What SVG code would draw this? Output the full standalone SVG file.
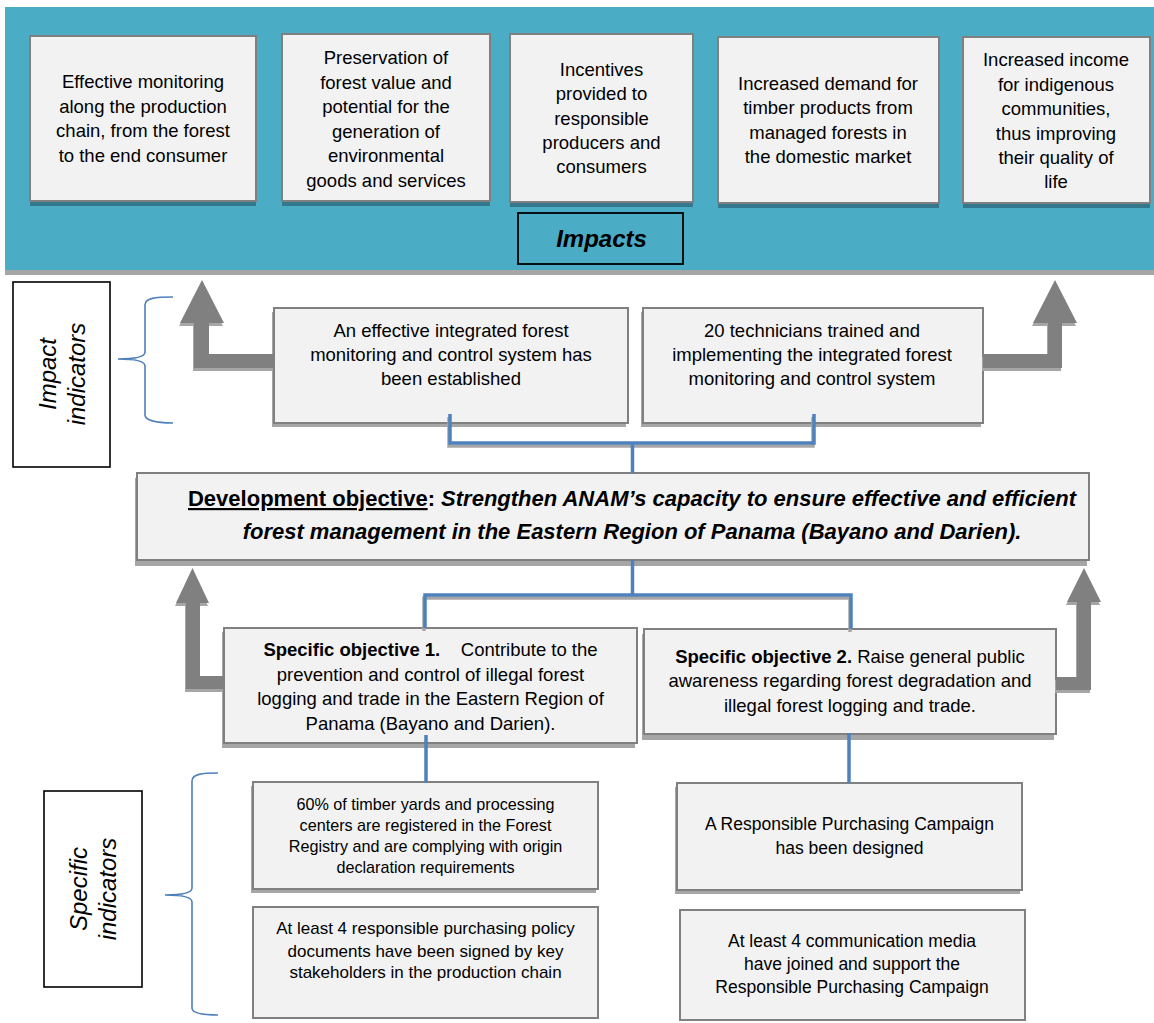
<svg xmlns="http://www.w3.org/2000/svg" width="1154" height="1023" viewBox="0 0 1154 1023">
<style>
text{font-family:"Liberation Sans",Arial,sans-serif;fill:#000;text-anchor:middle}
.t{font-size:18.5px}
.box{fill:#f2f2f2;stroke:#808080;stroke-width:2}
.tsh{fill:#33788c}
.gsh{fill:#a6a6a6}
.lbl{fill:#fff;stroke:#000;stroke-width:1.6}
.lab{font-size:24px;font-style:italic}
.brace{fill:none;stroke:#4f81bd;stroke-width:1.6}
.blue{fill:none;stroke:#4f81bd;stroke-width:3.5}
.blsh{fill:none;stroke:#a6a6a6;stroke-width:3.5}
.arr{fill:#808080}
.arsh{fill:#a6a6a6}
</style>
<rect x="0" y="0" width="1154" height="1023" fill="#fff"/>
<g id="impacts-band">
<rect x="5" y="7" width="1149" height="263" fill="#4bacc6"/>
<rect x="5" y="270" width="1149" height="5" fill="#a6a6a6"/>
</g>
<g id="impact1">
<rect class="tsh" x="30" y="41" width="226" height="165"/>
<rect class="box" x="30" y="36" width="226" height="165"/>
<text class="t"><tspan x="143" y="88">Effective monitoring</tspan><tspan x="143" y="112.5">along the production</tspan><tspan x="143" y="137">chain, from the forest</tspan><tspan x="143" y="161.5">to the end consumer</tspan></text>
</g>
<g id="impact2">
<rect class="tsh" x="282" y="39" width="208" height="167"/>
<rect class="box" x="282" y="34" width="208" height="167"/>
<text class="t"><tspan x="386" y="64">Preservation of</tspan><tspan x="386" y="89">forest value and</tspan><tspan x="386" y="113">potential for the</tspan><tspan x="386" y="137.5">generation of</tspan><tspan x="386" y="162">environmental</tspan><tspan x="386" y="186.5">goods and services</tspan></text>
</g>
<g id="impact3">
<rect class="tsh" x="510" y="39" width="183" height="168"/>
<rect class="box" x="510" y="34" width="183" height="168"/>
<text class="t"><tspan x="601.5" y="76">Incentives</tspan><tspan x="601.5" y="100">provided to</tspan><tspan x="601.5" y="124.5">responsible</tspan><tspan x="601.5" y="149">producers and</tspan><tspan x="601.5" y="173">consumers</tspan></text>
</g>
<g id="impact4">
<rect class="tsh" x="718" y="42" width="221" height="166"/>
<rect class="box" x="718" y="37" width="221" height="166"/>
<text class="t"><tspan x="828" y="90">Increased demand for</tspan><tspan x="828" y="114">timber products from</tspan><tspan x="828" y="138.5">managed forests in</tspan><tspan x="828" y="163">the domestic market</tspan></text>
</g>
<g id="impact5">
<rect class="tsh" x="963" y="42" width="187" height="166"/>
<rect class="box" x="963" y="37" width="187" height="166"/>
<text class="t"><tspan x="1056" y="66">Increased income</tspan><tspan x="1056" y="90.5">for indigenous</tspan><tspan x="1056" y="115">communities,</tspan><tspan x="1056" y="139.5">thus improving</tspan><tspan x="1056" y="164">their quality of</tspan><tspan x="1056" y="188">life</tspan></text>
</g>
<g id="impacts-label">
<rect x="518" y="213" width="165" height="51" fill="none" stroke="#000" stroke-width="1.8"/>
<text x="601.5" y="247" style="font-size:24px;font-weight:bold;font-style:italic">Impacts</text>
</g>
<g id="impact-indicators-label">
<rect class="lbl" x="13" y="282" width="97" height="185"/>
<text class="lab" transform="translate(56,374) rotate(-90)">Impact</text>
<text class="lab" transform="translate(84.5,374) rotate(-90)">indicators</text>
<path class="brace" d="M173,297 C155,297 145,298 145,305 V352 C145,357 135,359 118,359 C135,359 145,361 145,366 V415 C145,420 155,423 173,423"/>
</g>
<g id="indicator1">
<rect class="gsh" x="272" y="312" width="354" height="115"/>
<rect class="box" x="274" y="308" width="354" height="115"/>
<text class="t"><tspan x="451" y="336.7">An effective integrated forest</tspan><tspan x="451" y="360.7">monitoring and control system has</tspan><tspan x="451" y="385">been established</tspan></text>
</g>
<g id="indicator2">
<rect class="gsh" x="641" y="312" width="340" height="115"/>
<rect class="box" x="643" y="308" width="340" height="115"/>
<text class="t"><tspan x="812" y="336.7">20 technicians trained and</tspan><tspan x="812" y="360.7">implementing the integrated forest</tspan><tspan x="812" y="385">monitoring and control system</tspan></text>
</g>
<g id="development-objective">
<rect class="gsh" x="135" y="478" width="952" height="88"/>
<rect class="box" x="137" y="473" width="952" height="87"/>
<text style="font-size:22px;font-weight:bold"><tspan x="632" y="506"><tspan text-decoration="underline">Development objective</tspan>: <tspan font-style="italic">Strengthen ANAM’s capacity to ensure effective and efficient</tspan></tspan><tspan x="632" y="539" font-style="italic">forest management in the Eastern Region of Panama (Bayano and Darien).</tspan></text>
</g>
<g id="specific-objective1">
<rect class="gsh" x="222" y="632" width="413" height="116"/>
<rect class="box" x="224" y="628" width="413" height="115"/>
<text class="t"><tspan x="430.5" y="656"><tspan font-weight="bold">Specific objective 1.</tspan>&#160;&#160;&#160; Contribute to the</tspan><tspan x="430.5" y="681">prevention and control of illegal forest</tspan><tspan x="430.5" y="705">logging and trade in the Eastern Region of</tspan><tspan x="430.5" y="730">Panama (Bayano and Darien).</tspan></text>
</g>
<g id="specific-objective2">
<rect class="gsh" x="642" y="634" width="412" height="106"/>
<rect class="box" x="644" y="629" width="412" height="105"/>
<text class="t"><tspan x="850" y="662.7"><tspan font-weight="bold">Specific objective 2.</tspan> Raise general public</tspan><tspan x="850" y="687">awareness regarding forest degradation and</tspan><tspan x="850" y="711.7">illegal forest logging and trade.</tspan></text>
</g>
<g id="specific-indicators-label">
<rect class="lbl" x="44" y="791" width="98" height="196"/>
<text class="lab" transform="translate(87,889) rotate(-90)">Specific</text>
<text class="lab" transform="translate(116,889) rotate(-90)">indicators</text>
<path class="brace" d="M218,773 C202,773 192,774 192,781 V888 C192,893 180,895 165,895 C180,895 192,897 192,902 V1008 C192,1013 202,1015 218,1015"/>
</g>
<g id="specific-indicator1">
<rect class="gsh" x="251" y="786" width="345" height="107"/>
<rect class="box" x="253" y="782" width="345" height="107"/>
<text style="font-size:16.2px"><tspan x="425.5" y="810">60% of timber yards and processing</tspan><tspan x="425.5" y="831">centers are registered in the Forest</tspan><tspan x="425.5" y="851.7">Registry and are complying with origin</tspan><tspan x="425.5" y="872.7">declaration requirements</tspan></text>
</g>
<g id="specific-indicator2">
<rect class="box" x="253" y="907" width="345" height="111"/>
<text style="font-size:17px"><tspan x="425.5" y="934">At least 4 responsible purchasing policy</tspan><tspan x="425.5" y="956.7">documents have been signed by key</tspan><tspan x="425.5" y="978.3">stakeholders in the production chain</tspan></text>
</g>
<g id="specific-indicator3">
<rect class="gsh" x="675" y="787" width="345" height="107"/>
<rect class="box" x="677" y="783" width="345" height="107"/>
<text style="font-size:17.5px"><tspan x="849.5" y="830">A Responsible Purchasing Campaign</tspan><tspan x="849.5" y="854">has been designed</tspan></text>
</g>
<g id="specific-indicator4">
<rect class="box" x="680" y="910" width="345" height="110"/>
<text style="font-size:17.5px"><tspan x="852" y="946.7">At least 4 communication media</tspan><tspan x="852" y="970">have joined and support the</tspan><tspan x="852" y="993">Responsible Purchasing Campaign</tspan></text>
</g>
<g id="connectors">
<g transform="translate(-1,3)">
<path class="arsh" d="M202,280 L224,323 L209,323 L209,354 L274,354 L274,368 L194,368 L194,323 L180,323 Z"/>
<path class="arsh" d="M1055,280 L1077,323 L1062,323 L1062,368 L983,368 L983,354 L1048,354 L1048,323 L1033,323 Z"/>
<path class="arsh" d="M192.5,568 L209,603 L200,603 L200,676 L224,676 L224,689 L186,689 L186,603 L176,603 Z"/>
<path class="arsh" d="M1084,568 L1101,602 L1091,602 L1091,690 L1056,690 L1056,677 L1077,677 L1077,602 L1067,602 Z"/>
</g>
<path class="arr" d="M202,280 L224,323 L209,323 L209,354 L274,354 L274,368 L194,368 L194,323 L180,323 Z"/>
<path class="arr" d="M1055,280 L1077,323 L1062,323 L1062,368 L983,368 L983,354 L1048,354 L1048,323 L1033,323 Z"/>
<path class="arr" d="M192.5,568 L209,603 L200,603 L200,676 L224,676 L224,689 L186,689 L186,603 L176,603 Z"/>
<path class="arr" d="M1084,568 L1101,602 L1091,602 L1091,690 L1056,690 L1056,677 L1077,677 L1077,602 L1067,602 Z"/>
<g transform="translate(-1,3)">
<path class="blsh" d="M450,414 V443 H814 V414"/>
<path class="blsh" d="M425,628 V595 H851 V629"/>
</g>
<path class="blue" d="M450,414 V443 H814 V414"/>
<path class="blue" d="M632.5,443 V473"/>
<path class="blue" d="M632.5,560 V595"/>
<path class="blue" d="M425,628 V595 H851 V629"/>
<path class="blue" d="M426,735 V783"/>
<path class="blue" d="M849,733 V783"/>
</g>
</svg>
